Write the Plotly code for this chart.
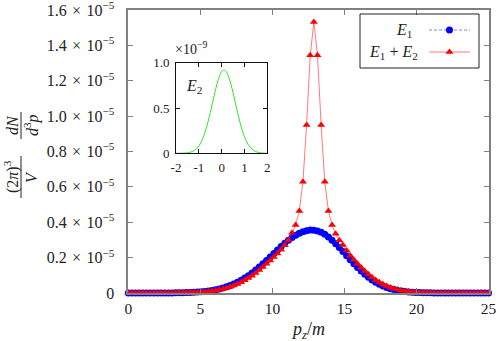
import plotly.graph_objects as go

W, H = 500, 341

# ---------------- data ----------------
pz = [0.000, 0.253, 0.505, 0.758, 1.010, 1.263, 1.515, 1.768, 2.020, 2.273,
      2.525, 2.778, 3.030, 3.283, 3.535, 3.788, 4.040, 4.293, 4.545, 4.798,
      5.051, 5.303, 5.556, 5.808, 6.061, 6.313, 6.566, 6.818, 7.071, 7.323,
      7.576, 7.828, 8.081, 8.333, 8.586, 8.838, 9.091, 9.343, 9.596, 9.848,
      10.101, 10.354, 10.606, 10.859, 11.111, 11.364, 11.616, 11.869, 12.121, 12.374,
      12.626, 12.879, 13.131, 13.384, 13.636, 13.889, 14.141, 14.394, 14.646, 14.899,
      15.152, 15.404, 15.657, 15.909, 16.162, 16.414, 16.667, 16.919, 17.172, 17.424,
      17.677, 17.929, 18.182, 18.434, 18.687, 18.939, 19.192, 19.444, 19.697, 19.949,
      20.202, 20.455, 20.707, 20.960, 21.212, 21.465, 21.717, 21.970, 22.222, 22.475,
      22.727, 22.980, 23.232, 23.485, 23.737, 23.990, 24.242, 24.495, 24.747, 25.000]

# values in units of 1e-5
E1 = [0.0000, 0.0000, 0.0000, 0.0000, 0.0000, 0.0000, 0.0000, 0.0001, 0.0002, 0.0003,
      0.0004, 0.0005, 0.0007, 0.0010, 0.0013, 0.0018, 0.0023, 0.0031, 0.0042, 0.0054,
      0.0071, 0.0091, 0.0116, 0.0147, 0.0185, 0.0230, 0.0284, 0.0347, 0.0422, 0.0508,
      0.0606, 0.0717, 0.0842, 0.0980, 0.1131, 0.1294, 0.1469, 0.1653, 0.1844, 0.2040,
      0.2239, 0.2435, 0.2627, 0.2811, 0.2981, 0.3135, 0.3270, 0.3382, 0.3468, 0.3527,
      0.3556, 0.3555, 0.3513, 0.3433, 0.3316, 0.3166, 0.2988, 0.2787, 0.2571, 0.2344,
      0.2112, 0.1881, 0.1657, 0.1443, 0.1241, 0.1056, 0.0888, 0.0738, 0.0606, 0.0492,
      0.0395, 0.0314, 0.0246, 0.0191, 0.0146, 0.0111, 0.0083, 0.0062, 0.0045, 0.0033,
      0.0023, 0.0016, 0.0011, 0.0008, 0.0005, 0.0003, 0.0002, 0.0001, 0.0000, 0.0000,
      0.0000, 0.0000, 0.0000, 0.0000, 0.0000, 0.0000, 0.0000, 0.0000, 0.0000, 0.0000]

E1_E2 = [0.0000, 0.0000, 0.0000, 0.0000, 0.0000, 0.0000, 0.0000, 0.0000, 0.0001, 0.0002,
         0.0003, 0.0004, 0.0005, 0.0007, 0.0010, 0.0013, 0.0018, 0.0023, 0.0031, 0.0042,
         0.0054, 0.0071, 0.0091, 0.0116, 0.0147, 0.0185, 0.0230, 0.0284, 0.0347, 0.0422,
         0.0508, 0.0606, 0.0717, 0.0842, 0.0980, 0.1131, 0.1294, 0.1469, 0.1653, 0.1844,
         0.2040, 0.2240, 0.2450, 0.2700, 0.3000, 0.3400, 0.3840, 0.4640, 0.6290, 0.9500,
         1.3450, 1.5320, 1.3450, 0.9500, 0.6290, 0.4640, 0.3840, 0.3350, 0.2980, 0.2720,
         0.2400, 0.2120, 0.1881, 0.1657, 0.1443, 0.1241, 0.1056, 0.0888, 0.0738, 0.0606,
         0.0492, 0.0395, 0.0314, 0.0246, 0.0191, 0.0146, 0.0111, 0.0083, 0.0062, 0.0045,
         0.0033, 0.0023, 0.0016, 0.0011, 0.0008, 0.0005, 0.0003, 0.0002, 0.0001, 0.0000,
         0.0000, 0.0000, 0.0000, 0.0000, 0.0000, 0.0000, 0.0000, 0.0000, 0.0000, 0.0000]

x_ticks = [0, 5, 10, 15, 20, 25]
y_ticks = [0, 0.2, 0.4, 0.6, 0.8, 1.0, 1.2, 1.4, 1.6]
SP = "\u2004"
y_ticktext = ["0"] + [f"{v:.1f}{SP}×{SP}10<sup>−5</sup>" for v in y_ticks[1:]]

# inset: E2 (units of 1e-9)
inset_x = [-2.0, -1.9, -1.8, -1.7, -1.6, -1.5, -1.4, -1.3, -1.2, -1.1,
           -1.0, -0.9, -0.8, -0.7, -0.6, -0.5, -0.4, -0.3, -0.2, -0.1,
           0.0, 0.1, 0.2, 0.3, 0.4, 0.5, 0.6, 0.7, 0.8, 0.9,
           1.0, 1.1, 1.2, 1.3, 1.4, 1.5, 1.6, 1.7, 1.8, 1.9, 2.0]
E2 = [0.0001, 0.0003, 0.0007, 0.0014, 0.0028, 0.0055, 0.0102, 0.0183, 0.0313, 0.0516,
      0.0818, 0.1245, 0.1821, 0.2558, 0.3453, 0.4479, 0.5580, 0.6680, 0.7685, 0.8493,
      0.9018, 0.9200, 0.9018, 0.8493, 0.7685, 0.6680, 0.5580, 0.4479, 0.3453, 0.2558,
      0.1821, 0.1245, 0.0818, 0.0516, 0.0313, 0.0183, 0.0102, 0.0055, 0.0028, 0.0014, 0.0007]
inset_x_ticks = [-2, -1, 0, 1, 2]
inset_y_ticks = [0, 0.5, 1.0]
inset_y_ticktext = ["0", "0.5", "1.0"]

# ---------------- layout geometry (pixels) ----------------
main_l, main_r, main_t, main_b = 128.3, 488.5, 10, 293
ins_l, ins_r, ins_t, ins_b = 176, 267.3, 62.7, 153.3

FONT = "Liberation Serif"
GRAY = "#808080"
BLUE_LINE = "rgba(60,60,255,0.65)"
RED_LINE = "rgba(255,50,50,0.65)"
DASH = "3px,2px"

fig = go.Figure()

fig.add_trace(go.Scatter(
    x=pz, y=E1, mode="lines+markers", cliponaxis=False, showlegend=False,
    line=dict(color=BLUE_LINE, width=1, dash=DASH),
    marker=dict(symbol="circle", size=7, color="#0000ff"),
    xaxis="x", yaxis="y"))
fig.add_trace(go.Scatter(
    x=pz, y=E1_E2, mode="lines+markers", cliponaxis=False, showlegend=False,
    line=dict(color=RED_LINE, width=1),
    marker=dict(symbol="triangle-up", size=7, color="#ff0000"),
    xaxis="x", yaxis="y"))

fig.add_trace(go.Scatter(
    x=inset_x, y=E2, mode="lines", showlegend=False,
    line=dict(color="#33e033", width=1, shape="spline"),
    xaxis="x2", yaxis="y2"))

# custom legend samples on a pixel overlay axis
fig.add_trace(go.Scatter(x=[429, 470], y=[30, 30], mode="lines", showlegend=False,
                         line=dict(color=BLUE_LINE, width=1, dash=DASH),
                         xaxis="x3", yaxis="y3", hoverinfo="skip"))
fig.add_trace(go.Scatter(x=[449.5], y=[30], mode="markers", showlegend=False,
                         marker=dict(symbol="circle", size=7, color="#0000ff"),
                         xaxis="x3", yaxis="y3", hoverinfo="skip"))
fig.add_trace(go.Scatter(x=[429, 470], y=[52, 52], mode="lines", showlegend=False,
                         line=dict(color=RED_LINE, width=1),
                         xaxis="x3", yaxis="y3", hoverinfo="skip"))
fig.add_trace(go.Scatter(x=[449.5], y=[52], mode="markers", showlegend=False,
                         marker=dict(symbol="triangle-up", size=7, color="#ff0000"),
                         xaxis="x3", yaxis="y3", hoverinfo="skip"))

axis_common = dict(showgrid=False, zeroline=False, showline=True, mirror="allticks",
                   ticks="inside", automargin=False, ticklabeloverflow="allow")

fig.update_layout(
    width=W, height=H,
    margin=dict(l=0, r=0, t=0, b=0),
    paper_bgcolor="white", plot_bgcolor="rgba(0,0,0,0)",
    font=dict(family=FONT, color="#222", size=15),
    xaxis=dict(domain=[main_l / W, main_r / W], range=[0, 25], anchor="y",
               tickvals=x_ticks, ticktext=[str(v) for v in x_ticks],
               linecolor=GRAY, linewidth=1.5, tickcolor=GRAY, ticklen=5, tickwidth=1,
               tickfont=dict(size=15.5, family=FONT, color="#222"), ticklabelstandoff=1,
               **axis_common),
    yaxis=dict(domain=[1 - main_b / H, 1 - main_t / H], range=[0, 1.6003], anchor="x",
               tickvals=y_ticks, ticktext=y_ticktext,
               linecolor=GRAY, linewidth=1.5, tickcolor=GRAY, ticklen=5, tickwidth=1,
               tickfont=dict(size=16, family=FONT, color="#222"), ticklabelstandoff=9,
               **axis_common),
    xaxis2=dict(domain=[ins_l / W, ins_r / W], range=[-2, 2], anchor="y2",
                tickvals=inset_x_ticks, ticktext=["-2", "-1", "0", "1", "2"],
                linecolor="#111", linewidth=1, tickcolor="#111", ticklen=4,
                tickfont=dict(size=13, family=FONT, color="#222"), ticklabelstandoff=2,
                **axis_common),
    yaxis2=dict(domain=[1 - ins_b / H, 1 - ins_t / H], range=[0, 1.0], anchor="x2",
                tickvals=inset_y_ticks, ticktext=inset_y_ticktext,
                linecolor="#111", linewidth=1, tickcolor="#111", ticklen=4,
                tickfont=dict(size=13, family=FONT, color="#222"), ticklabelstandoff=3,
                **axis_common),
    xaxis3=dict(domain=[0, 1], range=[0, W], anchor="y3", visible=False, fixedrange=True),
    yaxis3=dict(domain=[0, 1], range=[H, 0], anchor="x3", visible=False, fixedrange=True),
)

def px_ann(x, y, text, size=15, xanchor="center", yanchor="middle", angle=0):
    fig.add_annotation(x=x, y=y, xref="x3", yref="y3", text=text, showarrow=False,
                       xanchor=xanchor, yanchor=yanchor, textangle=angle,
                       font=dict(family=FONT, size=size, color="#222"))

# y-axis label as two fractions (rotated)
px_ann(11, 177, "(2<i>π</i>)<sup>3</sup>", size=16, angle=-90)
px_ann(31, 177, "<i>V</i>", size=16, angle=-90)
px_ann(12, 125, "<i>dN</i>", size=16, angle=-90)
px_ann(31, 125, "<i>d</i><sup>3</sup><i>p</i>", size=16, angle=-90)
fig.add_shape(type="line", xref="x3", yref="y3", x0=21, x1=21, y0=156, y1=198,
              line=dict(color="#222", width=1))
fig.add_shape(type="line", xref="x3", yref="y3", x0=21, x1=21, y0=112, y1=139,
              line=dict(color="#222", width=1))

# x-axis label
px_ann(308, 330, "<i>p</i><sub><i>z</i></sub>/<i>m</i>", size=18)

# inset annotations
px_ann(191, 48, "×10<sup>−9</sup>", size=14)
px_ann(194, 86, "<i>E</i><sub>2</sub>", size=16)

# legend box and texts
fig.add_shape(type="rect", xref="x3", yref="y3", x0=360, x1=479, y0=14, y1=68,
              line=dict(color="#222", width=1), fillcolor="rgba(0,0,0,0)")
px_ann(414, 30, "<i>E</i><sub>1</sub>", size=16, xanchor="right")
px_ann(420, 52, "<i>E</i><sub>1</sub> + <i>E</i><sub>2</sub>", size=16, xanchor="right")

fig.write_html("out.html", config={"displayModeBar": False},
               post_script="document.body.style.margin='0px';document.body.style.padding='0px';")
